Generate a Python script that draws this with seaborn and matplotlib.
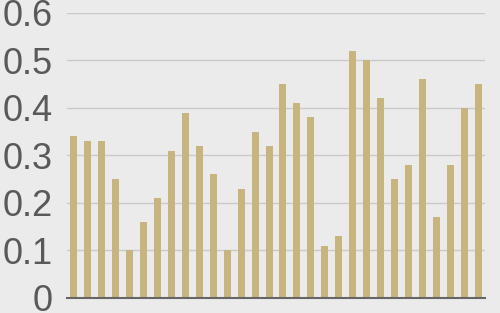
import matplotlib
matplotlib.use("Agg")
import matplotlib.pyplot as plt
import seaborn as sns
import pandas as pd

categories = [f"C{i+1}" for i in range(30)]
values = [0.34, 0.33, 0.33, 0.25, 0.10, 0.16, 0.21, 0.31, 0.39, 0.32,
          0.26, 0.10, 0.23, 0.35, 0.32, 0.45, 0.41, 0.38, 0.11, 0.13,
          0.52, 0.50, 0.42, 0.25, 0.28, 0.46, 0.17, 0.28, 0.40, 0.45]
yticks = [0, 0.1, 0.2, 0.3, 0.4, 0.5, 0.6]
ytick_labels = ["0", "0.1", "0.2", "0.3", "0.4", "0.5", "0.6"]

df = pd.DataFrame({"cat": categories, "val": values})

sns.set_style("white")
plt.rcParams['font.family'] = ['Liberation Sans', 'DejaVu Sans']

bg = "#ebebeb"
fig = plt.figure(figsize=(5, 3.13), dpi=100, facecolor=bg)
ax = fig.add_axes([0.134, 0.048, 0.836, 0.9105])
ax.set_facecolor(bg)

sns.barplot(data=df, x="cat", y="val", color="#c8b47e", saturation=1,
            width=0.5, ax=ax, edgecolor="none")

ax.set_xlim(-0.5, len(categories) - 0.5)
ax.set_ylim(0, 0.6)
ax.set_yticks(yticks)
ax.set_yticklabels(ytick_labels, fontsize=26, color="#595959")
ax.tick_params(axis="y", length=0, pad=10.5)
ax.set_xticks([])
ax.set_xlabel("")
ax.set_ylabel("")
ax.yaxis.grid(True, color="#c9c9c9", linewidth=1)
ax.set_axisbelow(True)
for s in ["top", "right", "left"]:
    ax.spines[s].set_visible(False)
ax.spines["bottom"].set_color("#666666")
ax.spines["bottom"].set_linewidth(1.5)

fig.savefig("out.png", dpi=100, facecolor=bg)
